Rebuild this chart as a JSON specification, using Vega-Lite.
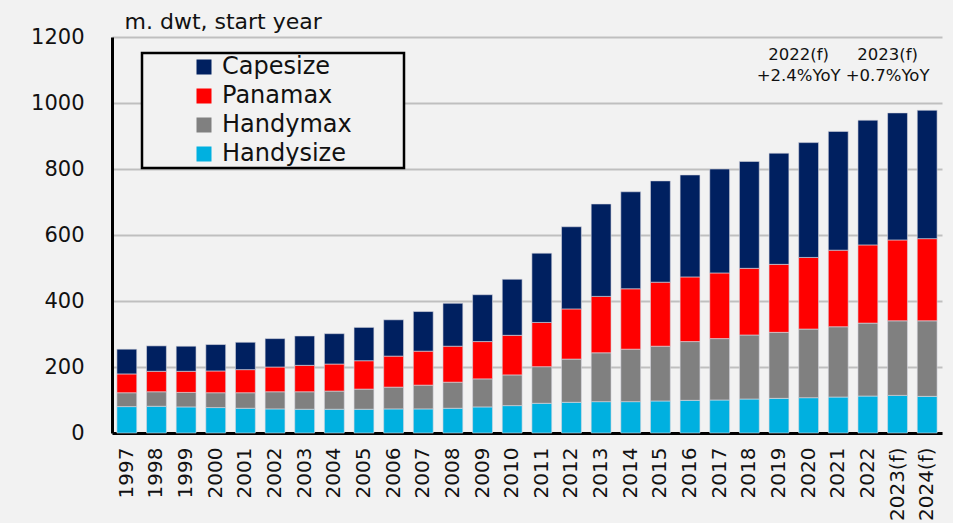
{
  "$schema": "https://vega.github.io/schema/vega-lite/v6.json",
  "width": 830,
  "height": 396,
  "autosize": {"type": "none"},
  "padding": {"left": 112, "top": 37, "right": 11, "bottom": 90},
  "background": "#f2f2f2",
  "config": {
    "view": {"stroke": null},
    "font": "DejaVu Sans",
    "legend": {"strokeWidth": 2.5}
  },
  "datasets": {
    "fleet": [
      {"year": "1997", "type": "Handysize", "rank": 1, "value": 80}, {"year": "1997", "type": "Handymax", "rank": 2, "value": 42}, {"year": "1997", "type": "Panamax", "rank": 3, "value": 57}, {"year": "1997", "type": "Capesize", "rank": 4, "value": 75},
      {"year": "1998", "type": "Handysize", "rank": 1, "value": 81}, {"year": "1998", "type": "Handymax", "rank": 2, "value": 44}, {"year": "1998", "type": "Panamax", "rank": 3, "value": 62}, {"year": "1998", "type": "Capesize", "rank": 4, "value": 77},
      {"year": "1999", "type": "Handysize", "rank": 1, "value": 79}, {"year": "1999", "type": "Handymax", "rank": 2, "value": 44}, {"year": "1999", "type": "Panamax", "rank": 3, "value": 64}, {"year": "1999", "type": "Capesize", "rank": 4, "value": 76},
      {"year": "2000", "type": "Handysize", "rank": 1, "value": 77}, {"year": "2000", "type": "Handymax", "rank": 2, "value": 45}, {"year": "2000", "type": "Panamax", "rank": 3, "value": 66}, {"year": "2000", "type": "Capesize", "rank": 4, "value": 80},
      {"year": "2001", "type": "Handysize", "rank": 1, "value": 75}, {"year": "2001", "type": "Handymax", "rank": 2, "value": 47}, {"year": "2001", "type": "Panamax", "rank": 3, "value": 70}, {"year": "2001", "type": "Capesize", "rank": 4, "value": 83},
      {"year": "2002", "type": "Handysize", "rank": 1, "value": 73}, {"year": "2002", "type": "Handymax", "rank": 2, "value": 52}, {"year": "2002", "type": "Panamax", "rank": 3, "value": 75}, {"year": "2002", "type": "Capesize", "rank": 4, "value": 86},
      {"year": "2003", "type": "Handysize", "rank": 1, "value": 72}, {"year": "2003", "type": "Handymax", "rank": 2, "value": 53}, {"year": "2003", "type": "Panamax", "rank": 3, "value": 80}, {"year": "2003", "type": "Capesize", "rank": 4, "value": 89},
      {"year": "2004", "type": "Handysize", "rank": 1, "value": 72}, {"year": "2004", "type": "Handymax", "rank": 2, "value": 55}, {"year": "2004", "type": "Panamax", "rank": 3, "value": 82}, {"year": "2004", "type": "Capesize", "rank": 4, "value": 92},
      {"year": "2005", "type": "Handysize", "rank": 1, "value": 72}, {"year": "2005", "type": "Handymax", "rank": 2, "value": 61}, {"year": "2005", "type": "Panamax", "rank": 3, "value": 86}, {"year": "2005", "type": "Capesize", "rank": 4, "value": 101},
      {"year": "2006", "type": "Handysize", "rank": 1, "value": 73}, {"year": "2006", "type": "Handymax", "rank": 2, "value": 66}, {"year": "2006", "type": "Panamax", "rank": 3, "value": 94}, {"year": "2006", "type": "Capesize", "rank": 4, "value": 110},
      {"year": "2007", "type": "Handysize", "rank": 1, "value": 73}, {"year": "2007", "type": "Handymax", "rank": 2, "value": 72}, {"year": "2007", "type": "Panamax", "rank": 3, "value": 103}, {"year": "2007", "type": "Capesize", "rank": 4, "value": 120},
      {"year": "2008", "type": "Handysize", "rank": 1, "value": 75}, {"year": "2008", "type": "Handymax", "rank": 2, "value": 79}, {"year": "2008", "type": "Panamax", "rank": 3, "value": 109}, {"year": "2008", "type": "Capesize", "rank": 4, "value": 130},
      {"year": "2009", "type": "Handysize", "rank": 1, "value": 79}, {"year": "2009", "type": "Handymax", "rank": 2, "value": 85}, {"year": "2009", "type": "Panamax", "rank": 3, "value": 113}, {"year": "2009", "type": "Capesize", "rank": 4, "value": 142},
      {"year": "2010", "type": "Handysize", "rank": 1, "value": 83}, {"year": "2010", "type": "Handymax", "rank": 2, "value": 93}, {"year": "2010", "type": "Panamax", "rank": 3, "value": 120}, {"year": "2010", "type": "Capesize", "rank": 4, "value": 170},
      {"year": "2011", "type": "Handysize", "rank": 1, "value": 90}, {"year": "2011", "type": "Handymax", "rank": 2, "value": 111}, {"year": "2011", "type": "Panamax", "rank": 3, "value": 134}, {"year": "2011", "type": "Capesize", "rank": 4, "value": 210},
      {"year": "2012", "type": "Handysize", "rank": 1, "value": 93}, {"year": "2012", "type": "Handymax", "rank": 2, "value": 131}, {"year": "2012", "type": "Panamax", "rank": 3, "value": 152}, {"year": "2012", "type": "Capesize", "rank": 4, "value": 249},
      {"year": "2013", "type": "Handysize", "rank": 1, "value": 95}, {"year": "2013", "type": "Handymax", "rank": 2, "value": 148}, {"year": "2013", "type": "Panamax", "rank": 3, "value": 171}, {"year": "2013", "type": "Capesize", "rank": 4, "value": 280},
      {"year": "2014", "type": "Handysize", "rank": 1, "value": 95}, {"year": "2014", "type": "Handymax", "rank": 2, "value": 159}, {"year": "2014", "type": "Panamax", "rank": 3, "value": 183}, {"year": "2014", "type": "Capesize", "rank": 4, "value": 294},
      {"year": "2015", "type": "Handysize", "rank": 1, "value": 97}, {"year": "2015", "type": "Handymax", "rank": 2, "value": 166}, {"year": "2015", "type": "Panamax", "rank": 3, "value": 194}, {"year": "2015", "type": "Capesize", "rank": 4, "value": 307},
      {"year": "2016", "type": "Handysize", "rank": 1, "value": 99}, {"year": "2016", "type": "Handymax", "rank": 2, "value": 178}, {"year": "2016", "type": "Panamax", "rank": 3, "value": 196}, {"year": "2016", "type": "Capesize", "rank": 4, "value": 309},
      {"year": "2017", "type": "Handysize", "rank": 1, "value": 100}, {"year": "2017", "type": "Handymax", "rank": 2, "value": 186}, {"year": "2017", "type": "Panamax", "rank": 3, "value": 199}, {"year": "2017", "type": "Capesize", "rank": 4, "value": 315},
      {"year": "2018", "type": "Handysize", "rank": 1, "value": 103}, {"year": "2018", "type": "Handymax", "rank": 2, "value": 194}, {"year": "2018", "type": "Panamax", "rank": 3, "value": 202}, {"year": "2018", "type": "Capesize", "rank": 4, "value": 324},
      {"year": "2019", "type": "Handysize", "rank": 1, "value": 105}, {"year": "2019", "type": "Handymax", "rank": 2, "value": 200}, {"year": "2019", "type": "Panamax", "rank": 3, "value": 206}, {"year": "2019", "type": "Capesize", "rank": 4, "value": 337},
      {"year": "2020", "type": "Handysize", "rank": 1, "value": 107}, {"year": "2020", "type": "Handymax", "rank": 2, "value": 208}, {"year": "2020", "type": "Panamax", "rank": 3, "value": 217}, {"year": "2020", "type": "Capesize", "rank": 4, "value": 348},
      {"year": "2021", "type": "Handysize", "rank": 1, "value": 109}, {"year": "2021", "type": "Handymax", "rank": 2, "value": 213}, {"year": "2021", "type": "Panamax", "rank": 3, "value": 232}, {"year": "2021", "type": "Capesize", "rank": 4, "value": 360},
      {"year": "2022", "type": "Handysize", "rank": 1, "value": 112}, {"year": "2022", "type": "Handymax", "rank": 2, "value": 221}, {"year": "2022", "type": "Panamax", "rank": 3, "value": 237}, {"year": "2022", "type": "Capesize", "rank": 4, "value": 378},
      {"year": "2023(f)", "type": "Handysize", "rank": 1, "value": 114}, {"year": "2023(f)", "type": "Handymax", "rank": 2, "value": 226}, {"year": "2023(f)", "type": "Panamax", "rank": 3, "value": 245}, {"year": "2023(f)", "type": "Capesize", "rank": 4, "value": 385},
      {"year": "2024(f)", "type": "Handysize", "rank": 1, "value": 111}, {"year": "2024(f)", "type": "Handymax", "rank": 2, "value": 229}, {"year": "2024(f)", "type": "Panamax", "rank": 3, "value": 249}, {"year": "2024(f)", "type": "Capesize", "rank": 4, "value": 389}
    ],
    "notes": [
      {"year": "2020", "value": 1145, "label": "2022(f)"},
      {"year": "2020", "value": 1083, "label": "+2.4%YoY"},
      {"year": "2023(f)", "value": 1145, "label": "2023(f)"},
      {"year": "2023(f)", "value": 1083, "label": "+0.7%YoY"}
    ]
  },
  "encoding": {
    "x": {
      "field": "year",
      "type": "nominal",
      "sort": null,
      "scale": {
        "domain": ["1997","1998","1999","2000","2001","2002","2003","2004","2005","2006","2007","2008","2009","2010","2011","2012","2013","2014","2015","2016","2017","2018","2019","2020","2021","2022","2023(f)","2024(f)"],
        "paddingInner": 0.33,
        "paddingOuter": 0.165
      },
      "axis": {
        "title": null,
        "labelAngle": -90,
        "labelAlign": "right",
        "labelBaseline": "middle",
        "labelFontSize": 20,
        "labelColor": "#111111",
        "labelPadding": 14,
        "ticks": false,
        "domainColor": "#000000",
        "domainWidth": 3,
        "grid": false
      }
    }
  },
  "layer": [
    {
      "data": {"name": "fleet"},
      "mark": {"type": "bar", "stroke": "#d8d8e0", "strokeWidth": 0.6},
      "encoding": {
        "y": {
          "field": "value",
          "type": "quantitative",
          "stack": "zero",
          "scale": {"domain": [0, 1200], "nice": false},
          "axis": {
            "values": [0, 200, 400, 600, 800, 1000, 1200],
            "format": "d",
            "title": "m. dwt, start year",
            "titleAngle": 0,
            "titleAlign": "left",
            "titleBaseline": "alphabetic",
            "titleX": 12,
            "titleY": -9,
            "titleFontSize": 22,
            "titleFontWeight": "normal",
            "titleColor": "#111111",
            "labelFontSize": 21,
            "labelColor": "#111111",
            "labelPadding": 28,
            "ticks": false,
            "domainColor": "#000000",
            "domainWidth": 3,
            "gridColor": "#bfbfbf",
            "gridWidth": 2
          }
        },
        "color": {
          "field": "type",
          "type": "nominal",
          "scale": {
            "domain": ["Capesize", "Panamax", "Handymax", "Handysize"],
            "range": ["#002060", "#ff0000", "#808080", "#00b0e0"]
          },
          "legend": {
            "title": "\u00a0",
            "titleOrient": "right",
            "titlePadding": 50,
            "titleFontSize": 10,
            "orient": "none",
            "legendX": 30,
            "legendY": 16,
            "padding": 2,
            "symbolOffset": 48,
            "symbolType": "square",
            "symbolSize": 225,
            "symbolStrokeWidth": 0,
            "labelFontSize": 24,
            "labelColor": "#111111",
            "labelOffset": 6,
            "rowPadding": 5,
            "strokeColor": "#000000",
            "fillColor": "#f2f2f2"
          }
        },
        "order": {"field": "rank", "type": "quantitative"}
      }
    },
    {
      "data": {"name": "notes"},
      "mark": {"type": "text", "fontSize": 16.5, "color": "#111111", "align": "center", "baseline": "middle"},
      "encoding": {
        "x": {"field": "year", "type": "nominal", "bandPosition": 0},
        "y": {"field": "value", "type": "quantitative", "stack": null},
        "text": {"field": "label"}
      }
    }
  ]
}
